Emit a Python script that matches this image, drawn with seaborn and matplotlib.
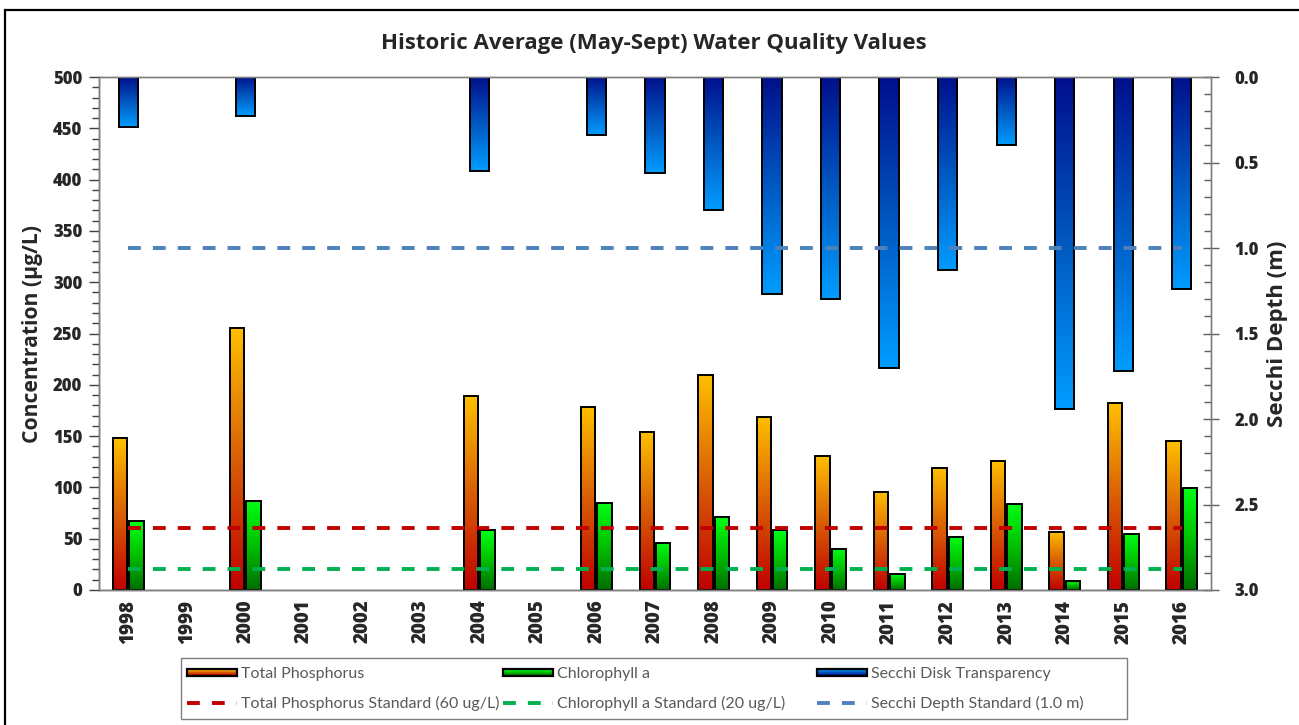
import numpy as np
import pandas as pd
import matplotlib
matplotlib.use("Agg")
import matplotlib.pyplot as plt
import seaborn as sns
from matplotlib.colors import LinearSegmentedColormap
from matplotlib.patches import Rectangle, Patch
from matplotlib.lines import Line2D
from matplotlib.legend_handler import HandlerBase
from matplotlib.ticker import MultipleLocator, FormatStrFormatter

# --- data ---
years = [str(y) for y in range(1998, 2017)]
sample_years = ["1998", "2000", "2004", "2006", "2007", "2008", "2009",
                "2010", "2011", "2012", "2013", "2014", "2015", "2016"]
total_phosphorus = [148, 255, 189, 178, 154, 210, 169, 131, 96, 119, 126, 57, 182, 145]
chlorophyll_a = [67, 87, 58, 85, 46, 71, 58, 40, 16, 52, 84, 9, 55, 99]
secchi_depth = [0.29, 0.23, 0.55, 0.34, 0.56, 0.78, 1.27, 1.30, 1.70, 1.13,
                0.40, 1.94, 1.72, 1.24]

tp_standard = 60
chl_standard = 20
secchi_standard = 1.0

conc = pd.DataFrame({
    "year": sample_years * 2,
    "param": ["Total Phosphorus"] * len(sample_years) + ["Chlorophyll a"] * len(sample_years),
    "value": total_phosphorus + chlorophyll_a,
})
secchi = pd.DataFrame({"year": sample_years, "depth": secchi_depth})

# gradient colour maps (bottom -> top of each bar)
tp_cmap = LinearSegmentedColormap.from_list("tp", ["#C00000", "#D95E05", "#FFC000"])
chl_cmap = LinearSegmentedColormap.from_list("chl", ["#006E00", "#00C000", "#00FF14"])
sec_cmap = LinearSegmentedColormap.from_list("sec", ["#000F8C", "#0058C0", "#009CFF"])
grad = np.linspace(0, 1, 256).reshape(-1, 1)

LABEL_FONT = ["Open Sans", "DejaVu Sans"]


def fill_gradient(ax, bars, cmap):
    for bar in bars:
        x0, y0 = bar.get_x(), bar.get_y()
        w, h = bar.get_width(), bar.get_height()
        if not np.isfinite(h) or h == 0:
            continue
        im = ax.imshow(grad, cmap=cmap, origin="lower", aspect="auto",
                       extent=(x0, x0 + w, y0, y0 + h), zorder=1.5,
                       interpolation="bilinear")
        im.set_clip_path(bar)
        bar.set_facecolor("none")
        bar.set_zorder(2)


class GradientHandler(HandlerBase):
    def __init__(self, cmap):
        super().__init__()
        self.cmap = cmap

    def create_artists(self, legend, orig_handle, xdescent, ydescent,
                       width, height, fontsize, trans):
        n = 10
        hh = height * 0.6
        y0 = -ydescent + (height - hh) / 2
        arts = []
        for i in range(n):
            arts.append(Rectangle((-xdescent, y0 + i * hh / n), width, hh / n,
                                  facecolor=self.cmap(i / (n - 1)), edgecolor="none",
                                  transform=trans))
        arts.append(Rectangle((-xdescent, y0), width, hh, facecolor="none",
                              edgecolor="black", lw=1.6, transform=trans))
        return arts


sns.set_style("white")
plt.rcParams["font.family"] = LABEL_FONT

fig = plt.figure(figsize=(12.99, 7.25), dpi=100)
ax = fig.add_axes([99 / 1299, 135 / 725, 1112 / 1299, 513 / 725])
ax2 = ax.twinx()

sns.barplot(data=conc, x="year", y="value", hue="param", order=years,
            hue_order=["Total Phosphorus", "Chlorophyll a"],
            palette=["#E58A00", "#00C000"], width=0.56, gap=0.12,
            edgecolor="black", linewidth=1.4, saturation=1,
            errorbar=None, legend=False, ax=ax)
fill_gradient(ax, ax.containers[0], tp_cmap)
fill_gradient(ax, ax.containers[1], chl_cmap)

sns.barplot(data=secchi, x="year", y="depth", order=years, color="#0070E0",
            width=0.33, edgecolor="black", linewidth=1.4, saturation=1,
            errorbar=None, ax=ax2)
ax2.set_ylim(3, 0)
fill_gradient(ax2, ax2.containers[0], sec_cmap)

n = len(years)
dash = (0, (3.3, 3.1))
ax.hlines(tp_standard, 0, n - 1, colors="#C00000", lw=2.8, linestyles=dash, zorder=3)
ax.hlines(chl_standard, 0, n - 1, colors="#00B050", lw=2.8, linestyles=dash, zorder=3)
ax2.hlines(secchi_standard, 0, n - 1, colors="#4F81BD", lw=2.8, linestyles=dash, zorder=3)

# axes limits / ticks
ax.set_xlim(-0.5, n - 0.5)
ax.set_ylim(0, 500)
ax2.set_ylim(3, 0)
ax.yaxis.set_major_locator(MultipleLocator(50))
ax.yaxis.set_minor_locator(MultipleLocator(10))
ax2.yaxis.set_major_locator(MultipleLocator(0.5))
ax2.yaxis.set_minor_locator(MultipleLocator(0.1))
ax2.yaxis.set_major_formatter(FormatStrFormatter("%.1f"))

ax.set_xticks(range(n))
ax.set_xticklabels(years, rotation=90, fontsize=13.5, fontweight=800)
ax.set_xticks(np.arange(-0.5, n, 1), minor=True)
ax.tick_params(axis="x", which="major", length=0, pad=7)
ax.tick_params(axis="x", which="minor", length=7, width=1, color="#404040", direction="out")
ax.tick_params(axis="y", which="major", length=7, width=1, color="#404040",
               direction="out", labelsize=12, pad=5)
ax.tick_params(axis="y", which="minor", length=5, width=1, color="#404040", direction="out")
for lbl in ax.get_yticklabels():
    lbl.set_fontweight(800)
ax2.tick_params(axis="y", which="major", length=12, width=1, color="#606060",
                direction="inout", labelsize=12, pad=11)
ax2.tick_params(axis="y", which="minor", length=5, width=1, color="#606060", direction="in")
for lbl in ax2.get_yticklabels():
    lbl.set_fontweight(800)

ax.set_xlabel("")
ax.set_ylabel("")
ax2.set_ylabel("")
ax2.set_xlabel("")
for a in (ax, ax2):
    for s in a.spines.values():
        s.set_color("#7f7f7f")
        s.set_linewidth(1)
ax.spines["left"].set_color("#404040")
ax.spines["bottom"].set_color("#404040")

# labels and title
fig.text(654 / 1299, 1 - 43 / 725, "Historic Average (May-Sept) Water Quality Values",
         ha="center", va="center", fontsize=16, fontweight="bold")
fig.text(33 / 1299, 1 - 334 / 725, "Concentration (µg/L)", rotation=90,
         ha="center", va="center", fontsize=15.2, fontweight="bold")
fig.text(1278 / 1299, 1 - 334 / 725, "Secchi Depth (m)", rotation=90,
         ha="center", va="center", fontsize=16, fontweight="bold")

# legend: a framed box with three fixed columns
tp_h = Patch(label="Total Phosphorus")
chl_h = Patch(label="Chlorophyll a")
sec_h = Patch(label="Secchi Disk Transparency")
tp_l = Line2D([], [], color="#C00000", lw=2.8, ls=dash, label="Total Phosphorus Standard (60 ug/L)")
chl_l = Line2D([], [], color="#00B050", lw=2.8, ls=dash, label="Chlorophyll a Standard (20 ug/L)")
sec_l = Line2D([], [], color="#4F81BD", lw=2.8, ls=dash, label="Secchi Depth Standard (1.0 m)")
columns = [(tp_h, tp_l, tp_cmap, 187), (chl_h, chl_l, chl_cmap, 503), (sec_h, sec_l, sec_cmap, 817)]
for patch_h, line_h, cmap, x_px in columns:
    leg = fig.legend(handles=[patch_h, line_h], loc="center left",
                     bbox_to_anchor=(x_px / 1299, 1 - 689 / 725),
                     handler_map={patch_h: GradientHandler(cmap)},
                     handlelength=3.15, handletextpad=0.25, labelspacing=0.95,
                     borderpad=0, borderaxespad=0, frameon=False,
                     prop={"family": "Lato", "size": 11.5})
    for t in leg.get_texts():
        t.set_color("#595959")

fig.add_artist(Rectangle((181 / 1299, 1 - 719 / 725), 946 / 1299, 61 / 725,
                         transform=fig.transFigure, facecolor="none",
                         edgecolor="#7f7f7f", lw=1))

# outer chart border
fig.add_artist(Rectangle((5 / 1299, -0.02), 1.2, (725 - 10) / 725 + 0.02,
                         transform=fig.transFigure, facecolor="none",
                         edgecolor="black", lw=1.6, clip_on=False))

fig.savefig("out.png", dpi=100)
